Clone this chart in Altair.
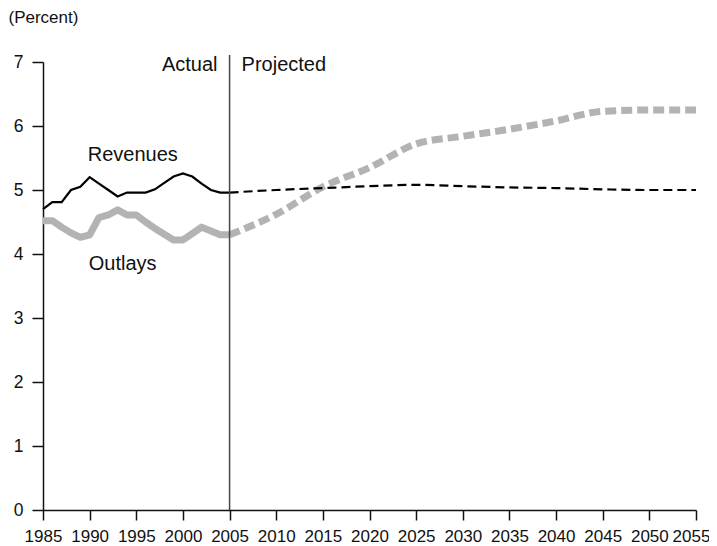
import altair as alt
import pandas as pd

years_actual = list(range(1985, 2006))
revenues_actual = [4.70, 4.81, 4.81, 5.00, 5.05, 5.20, 5.10, 5.00, 4.90, 4.96, 4.96,
                   4.96, 5.01, 5.11, 5.21, 5.26, 5.21, 5.10, 5.00, 4.96, 4.96]
outlays_actual = [4.52, 4.52, 4.42, 4.33, 4.26, 4.30, 4.57, 4.61, 4.69, 4.61, 4.61,
                  4.50, 4.40, 4.31, 4.22, 4.22, 4.32, 4.42, 4.36, 4.30, 4.30]
years_proj = list(range(2005, 2060, 5))
revenues_proj = [4.96, 5.00, 5.03, 5.06, 5.08, 5.06, 5.04, 5.03, 5.01, 5.00, 5.00]
outlays_proj = [4.30, 4.62, 5.05, 5.35, 5.72, 5.84, 5.95, 6.08, 6.23, 6.25, 6.25]

label_text = ["Revenues", "Outlays"]
label_year = [1989.8, 1989.9]
label_value = [5.55, 3.85]

divider_year = 2005

FONT = "Liberation Sans"
GRAY = "#b3b3b3"

rev_a = pd.DataFrame({"year": years_actual, "value": revenues_actual})
out_a = pd.DataFrame({"year": years_actual, "value": outlays_actual})
rev_p = pd.DataFrame({"year": years_proj, "value": revenues_proj})
out_p = pd.DataFrame({"year": years_proj, "value": outlays_proj})
labels = pd.DataFrame({"text": label_text, "year": label_year, "value": label_value})
divider = pd.DataFrame({"year": [divider_year], "lo": [0], "hi": [7.11], "top": [6.95]})

x = alt.X("year:Q",
          scale=alt.Scale(domain=[1985, 2055], nice=False, zero=False),
          axis=alt.Axis(values=list(range(1985, 2060, 5)), format="d", title=None,
                        grid=False, tickSize=10, labelPadding=8, labelFontSize=17,
                        labelFont=FONT, labelColor="#111", domainColor="#111",
                        tickColor="#111", domainWidth=1.5, tickWidth=1.5,
                        labelFlush=False, labelOverlap=False,
                        labelOffset={"condition": {"test": "datum.value == 2055", "value": -5},
                                     "value": 0}))
y = alt.Y("value:Q",
          scale=alt.Scale(domain=[0, 7], nice=False),
          axis=alt.Axis(values=list(range(0, 8)), format="d", title="(Percent)", titleAngle=0,
                        titleAlign="left", titleBaseline="middle", titleX=-35, titleY=-45,
                        titleFont=FONT, titleFontSize=17, titleFontWeight="normal",
                        titleColor="#111",
                        grid=False, tickSize=11, labelPadding=9, labelFontSize=17.5,
                        labelFont=FONT, labelColor="#111", domainColor="#111",
                        tickColor="#111", domainWidth=1.5, tickWidth=1.5))

base_opts = dict(x=x, y=y)

out_proj_line = alt.Chart(out_p).mark_line(
    color=GRAY, strokeWidth=7, strokeDash=[11, 5], interpolate="monotone", strokeCap="butt"
).encode(**base_opts)
out_act_line = alt.Chart(out_a).mark_line(
    color=GRAY, strokeWidth=7, strokeJoin="round"
).encode(**base_opts)
rev_proj_line = alt.Chart(rev_p).mark_line(
    color="#000", strokeWidth=2.2, strokeDash=[9, 5], interpolate="monotone"
).encode(**base_opts)
rev_act_line = alt.Chart(rev_a).mark_line(
    color="#000", strokeWidth=2.2
).encode(**base_opts)

rule = alt.Chart(divider).mark_rule(color="#444", strokeWidth=1.5).encode(
    x=alt.X("year:Q"), y=alt.Y("lo:Q"), y2="hi:Q")

actual_txt = alt.Chart(divider).mark_text(
    text="Actual", align="right", baseline="middle", dx=-12, font=FONT, fontSize=20, color="#111"
).encode(x=alt.X("year:Q"), y=alt.Y("top:Q"))
proj_txt = alt.Chart(divider).mark_text(
    text="Projected", align="left", baseline="middle", dx=12, font=FONT, fontSize=20, color="#111"
).encode(x=alt.X("year:Q"), y=alt.Y("top:Q"))

label_txt = alt.Chart(labels).mark_text(
    align="left", baseline="middle", font=FONT, fontSize=20, color="#111"
).encode(x=alt.X("year:Q"), y=alt.Y("value:Q"), text="text:N")

chart = alt.layer(
    out_proj_line, out_act_line, rev_proj_line, rev_act_line, rule,
    actual_txt, proj_txt, label_txt
).properties(
    width=653, height=448,
    autosize=alt.AutoSizeParams(type="none"),
    padding={"left": 35, "top": 54, "right": 13, "bottom": 36},
    background="white"
).configure_view(stroke=None)

chart.save("out.html", embed_options={"renderer": "svg", "actions": False})
